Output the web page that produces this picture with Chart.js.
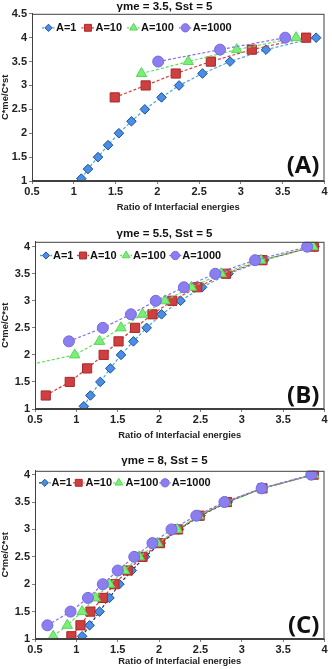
<!DOCTYPE html>
<html>
<head>
<meta charset="utf-8">
<title>Ratio of interfacial energies</title>
<script src="https://cdn.jsdelivr.net/npm/chart.js@4.4.1/dist/chart.umd.min.js"></script>
<style>
    html, body { margin: 0; padding: 0; background: #fff; }
    .panel { position: absolute; left: 0; width: 332px; }
</style>
</head>
<body>
<div class="panel" style="top:0;height:216px"><canvas id="chartA"></canvas></div>
<div class="panel" style="top:220px;height:222px"><canvas id="chartB"></canvas></div>
<div class="panel" style="top:440px;height:229px"><canvas id="chartC"></canvas></div>
<script>
// Three panels, same axes, different γme

const seriesNames = ['A=1', 'A=10', 'A=100', 'A=1000'];

// (A) γme = 3.5
const ratioA1 = [1.09, 1.17, 1.29, 1.41, 1.54, 1.69, 1.85, 2.05, 2.26, 2.54, 2.87, 3.30, 3.90];
const cmeA1 = [1.05, 1.25, 1.5, 1.75, 2, 2.25, 2.5, 2.75, 3, 3.25, 3.5, 3.75, 4];
const ratioA10 = [1.49, 1.86, 2.22, 2.64, 3.13, 3.78];
const cmeA10 = [2.75, 3, 3.25, 3.5, 3.75, 4];
const ratioA100 = [1.81, 2.37, 2.95, 3.66];
const cmeA100 = [3.25, 3.5, 3.75, 4];
const ratioA1000 = [2.01, 2.75, 3.53];
const cmeA1000 = [3.5, 3.75, 4];

// (B) γme = 5.5
const ratioB1 = [1.09, 1.17, 1.29, 1.41, 1.54, 1.69, 1.85, 2.03, 2.26, 2.52, 2.84, 3.27, 3.88];
const cmeB1 = [1.05, 1.25, 1.5, 1.75, 2, 2.25, 2.5, 2.75, 3, 3.25, 3.5, 3.75, 4];
const ratioB10 = [0.63, 0.92, 1.13, 1.33, 1.51, 1.71, 1.92, 2.16, 2.46, 2.81, 3.25, 3.87];
const cmeB10 = [1.25, 1.5, 1.75, 2, 2.25, 2.5, 2.75, 3, 3.25, 3.5, 3.75, 4];
const ratioB100 = [0.23, 0.98, 1.28, 1.54, 1.80, 2.07, 2.39, 2.75, 3.23, 3.86];
const cmeB100 = [1.75, 2, 2.25, 2.5, 2.75, 3, 3.25, 3.5, 3.75, 4];
const ratioB1000 = [0.91, 1.32, 1.66, 1.96, 2.30, 2.68, 3.16, 3.79];
const cmeB1000 = [2.25, 2.5, 2.75, 3, 3.25, 3.5, 3.75, 4];

// (C) γme = 8
const ratioC1 = [1.07, 1.16, 1.28, 1.40, 1.52, 1.67, 1.83, 2.02, 2.24, 2.50, 2.83, 3.25, 3.87];
const cmeC1 = [1.05, 1.25, 1.5, 1.75, 2, 2.25, 2.5, 2.75, 3, 3.25, 3.5, 3.75, 4];
const ratioC10 = [0.94, 1.05, 1.17, 1.32, 1.46, 1.62, 1.80, 2.01, 2.23, 2.49, 2.82, 3.25, 3.87];
const cmeC10 = [1.05, 1.25, 1.5, 1.75, 2, 2.25, 2.5, 2.75, 3, 3.25, 3.5, 3.75, 4];
const ratioC100 = [0.72, 0.89, 1.07, 1.23, 1.40, 1.58, 1.76, 1.98, 2.22, 2.48, 2.81, 3.24, 3.87];
const cmeC100 = [1.05, 1.25, 1.5, 1.75, 2, 2.25, 2.5, 2.75, 3, 3.25, 3.5, 3.75, 4];
const ratioC1000 = [0.65, 0.93, 1.14, 1.32, 1.50, 1.70, 1.92, 2.15, 2.45, 2.79, 3.24, 3.84];
const cmeC1000 = [1.25, 1.5, 1.75, 2, 2.25, 2.5, 2.75, 3, 3.25, 3.5, 3.75, 4];

const xTicksStep = 0.5;
const xTitle = 'Ratio of Interfacial energies';
const yTitle = 'C*me/C*st';

const markerStyles = [
    { pointStyle: 'rectRot', radius: 4.8, fill: '#4a8ee6', border: '#1c4f9c', line: '#4aa6dc' },
    { pointStyle: 'rect', radius: 6.5, fill: '#cf3f3f', border: '#a82a2a', line: '#d43c3c' },
    { pointStyle: 'triangle', radius: 6, fill: '#78f078', border: '#5cd45c', line: '#5ee05e' },
    { pointStyle: 'circle', radius: 5.5, fill: '#8b7ff0', border: '#7568e0', line: '#8a70e8' }
];

const fontFamily = '"Liberation Sans", Arial, sans-serif';
const legendFont = 'bold 11px "Liberation Sans", Arial, sans-serif';

function toPoints(xs, ys) {
    return xs.map((x, i) => ({ x: x, y: ys[i] }));
}

function tickText(value) {
    return String(Math.round(value * 10) / 10);
}

// frame on all four sides, the legend row inside the plot, and the big panel letter
const framePlugin = {
    id: 'frame',
    afterDraw(chart, args, opts) {
        const a = chart.chartArea;
        const ctx = chart.ctx;
        ctx.save();
        ctx.strokeStyle = '#404040';
        ctx.lineWidth = 1;
        ctx.strokeRect(a.left + 0.5, a.top + 0.5, a.right - a.left - 1, a.bottom - a.top - 1);

        // legend: dashed line + marker, then the name
        let x = a.left + opts.legendStart;
        const y = a.top + opts.legendDrop;
        ctx.font = legendFont;
        ctx.textBaseline = 'middle';
        ctx.textAlign = 'left';
        chart.data.datasets.forEach((ds, i) => {
            const s = markerStyles[i];
            ctx.strokeStyle = ds.borderColor;
            ctx.lineWidth = 1.3;
            ctx.setLineDash([2, 1.5]);
            ctx.beginPath();
            ctx.moveTo(x, y);
            ctx.lineTo(x + opts.iconWidth, y);
            ctx.stroke();
            ctx.setLineDash([]);
            ctx.fillStyle = s.fill;
            ctx.strokeStyle = s.border;
            ctx.lineWidth = 1;
            Chart.helpers.drawPoint(ctx, {
                pointStyle: s.pointStyle,
                radius: s.radius * 0.75,
                rotation: 0,
                borderWidth: 1
            }, x + opts.iconWidth / 2, y);
            x += opts.iconWidth + 1;
            ctx.fillStyle = '#111';
            ctx.fillText(ds.label, x, y + 0.5);
            x += ctx.measureText(ds.label).width + opts.itemGap;
        });

        ctx.fillStyle = '#111';
        ctx.font = 'bold 24px "Open Sans", sans-serif';
        ctx.textAlign = 'right';
        ctx.textBaseline = 'alphabetic';
        ctx.fillText(opts.label, a.right - 5, a.bottom - opts.labelLift);
        ctx.restore();
    }
};

function buildPanel(canvasId, p) {
    const lineColors = markerStyles.map((s, i) => (i === 0 && p.darkFirstLine) ? '#1f2f5a' : s.line);

    const datasets = p.series.map((pts, i) => {
        const s = markerStyles[i];
        return {
            label: seriesNames[i],
            data: pts,
            showLine: true,
            borderColor: lineColors[i],
            borderWidth: 1.2,
            borderDash: [3, 2],
            pointStyle: s.pointStyle,
            pointRadius: s.radius,
            pointBackgroundColor: s.fill,
            pointBorderColor: s.border,
            pointBorderWidth: 1,
            order: 4 - i
        };
    });

    return new Chart(document.getElementById(canvasId), {
        type: 'scatter',
        data: { datasets: datasets },
        plugins: [framePlugin],
        options: {
            responsive: true,
            maintainAspectRatio: false,
            animation: false,
            layout: { padding: { left: 0, right: 3, top: 0, bottom: 0 } },
            scales: {
                x: {
                    type: 'linear',
                    min: 0.5,
                    max: 4,
                    ticks: {
                        stepSize: xTicksStep,
                        font: { family: fontFamily, size: 11, weight: 'bold' },
                        color: '#222',
                        padding: 1,
                        maxRotation: 0,
                        callback: tickText
                    },
                    grid: { drawOnChartArea: false, tickLength: 3, color: '#7f7f7f' },
                    border: { color: '#404040' },
                    title: {
                        display: true,
                        text: xTitle,
                        font: { family: fontFamily, size: 9.4, weight: 'bold' },
                        color: '#222',
                        padding: { top: 0, bottom: p.xTitlePad }
                    },
                    afterFit: scale => { scale.height = p.xAxisHeight; }
                },
                y: {
                    type: 'linear',
                    min: 1,
                    max: p.yMax,
                    ticks: {
                        stepSize: 0.5,
                        includeBounds: false,
                        font: { family: fontFamily, size: 11, weight: 'bold' },
                        color: '#222',
                        padding: 2,
                        callback: tickText
                    },
                    grid: { drawOnChartArea: false, tickLength: 3, color: '#7f7f7f' },
                    border: { color: '#404040' },
                    title: {
                        display: true,
                        text: yTitle,
                        font: { family: fontFamily, size: 9.4, weight: 'bold' },
                        color: '#222',
                        padding: 0
                    },
                    afterFit: scale => { scale.width = p.yAxisWidth; }
                }
            },
            plugins: {
                title: {
                    display: true,
                    text: p.title,
                    font: { family: fontFamily, size: 11.5, weight: 'bold' },
                    color: '#111',
                    padding: { top: p.titlePadTop, bottom: p.titlePadBottom }
                },
                legend: { display: false },
                tooltip: { enabled: false },
                frame: {
                    label: p.label,
                    labelLift: p.labelLift,
                    legendStart: p.legendStart,
                    legendDrop: p.legendDrop,
                    iconWidth: p.iconWidth,
                    itemGap: p.itemGap
                }
            }
        }
    });
}

buildPanel('chartA', {
    title: 'γme = 3.5, Sst = 5',
    label: '(A)',
    series: [toPoints(ratioA1, cmeA1), toPoints(ratioA10, cmeA10), toPoints(ratioA100, cmeA100), toPoints(ratioA1000, cmeA1000)],
    yMax: 4.5,
    yAxisWidth: 32,
    xAxisHeight: 35,
    xTitlePad: 2.7,
    titlePadTop: 0,
    titlePadBottom: 0,
    labelLift: 8,
    legendStart: 10,
    legendDrop: 14,
    iconWidth: 13,
    itemGap: 5,
    darkFirstLine: false
});

buildPanel('chartB', {
    title: 'γme = 5.5, Sst = 5',
    label: '(B)',
    series: [toPoints(ratioB1, cmeB1), toPoints(ratioB10, cmeB10), toPoints(ratioB100, cmeB100), toPoints(ratioB1000, cmeB1000)],
    yMax: 4.09,
    yAxisWidth: 35,
    xAxisHeight: 33,
    xTitlePad: 0.7,
    titlePadTop: 6.5,
    titlePadBottom: 1.5,
    labelLift: 6,
    legendStart: 5,
    legendDrop: 13.7,
    iconWidth: 12,
    itemGap: 3.5,
    darkFirstLine: false
});

buildPanel('chartC', {
    title: 'γme = 8, Sst = 5',
    label: '(C)',
    series: [toPoints(ratioC1, cmeC1), toPoints(ratioC10, cmeC10), toPoints(ratioC100, cmeC100), toPoints(ratioC1000, cmeC1000)],
    yMax: 4.07,
    yAxisWidth: 35,
    xAxisHeight: 30,
    xTitlePad: 1.7,
    titlePadTop: 14.2,
    titlePadBottom: 2.8,
    labelLift: 6,
    legendStart: 4,
    legendDrop: 12,
    iconWidth: 11.5,
    itemGap: 1,
    darkFirstLine: true
});
</script>
</body>
</html>
